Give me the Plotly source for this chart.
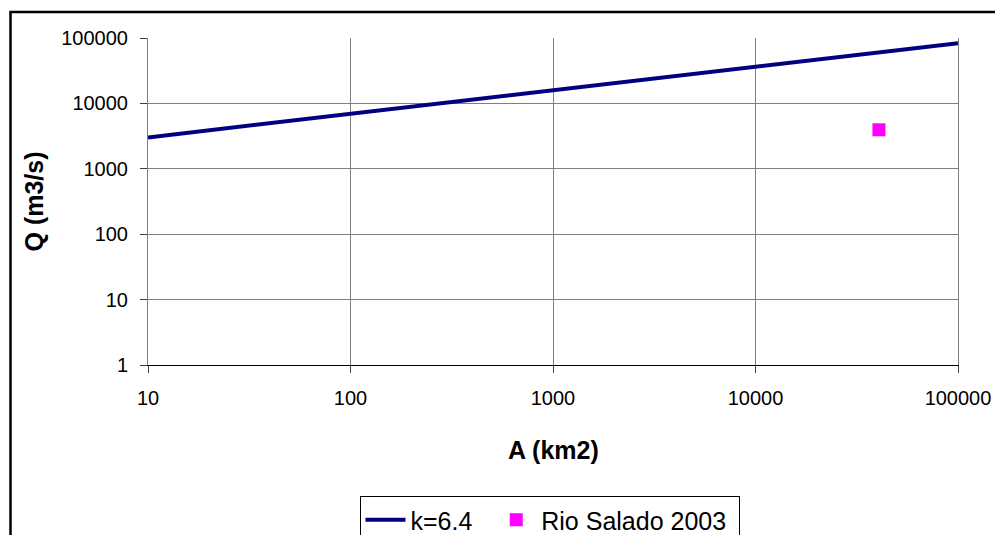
import plotly.graph_objects as go

# Catchment area (km2) and peak discharge (m3/s) for the k=6.4 envelope curve
area_k64 = [10, 100, 1000, 10000, 100000]
q_k64 = [3020, 6920, 15850, 36300, 83200]

# Observed flood event
area_obs = [40700]
q_obs = [3950]

x_ticks = [10, 100, 1000, 10000, 100000]
y_ticks = [1, 10, 100, 1000, 10000, 100000]

W, H = 995, 535
L, R, T, B = 148, 37, 38, 170
pw, ph = W - L - R, H - T - B


def px_x(px):
    return (px - L) / pw


def px_y(py):
    return (H - B - py) / ph


font = "Liberation Sans, Arial, sans-serif"

fig = go.Figure()
fig.add_trace(go.Scatter(
    x=area_k64, y=q_k64, mode="lines", name="k=6.4&nbsp;&nbsp;",
    line=dict(color="#000080", width=4),
))
fig.add_trace(go.Scatter(
    x=area_obs, y=q_obs, mode="markers", name="Rio Salado 2003&nbsp;",
    marker=dict(color="#FF00FF", symbol="square", size=13, line=dict(width=0)),
))

axis_common = dict(
    type="log", showgrid=True, gridcolor="#808080", gridwidth=1,
    ticks="outside", ticklen=7, tickcolor="#404040",
    tickfont=dict(family=font, size=20, color="black"),
    zeroline=False, exponentformat="none", automargin=False,
)

fig.update_layout(
    width=W, height=H,
    margin=dict(l=L, r=R, t=T, b=B, autoexpand=False),
    paper_bgcolor="white", plot_bgcolor="white",
    xaxis=dict(
        range=[1, 5], tickvals=x_ticks, ticktext=[str(v) for v in x_ticks],
        showline=True, linecolor="black", linewidth=1, ticklabelstandoff=8,
        **axis_common,
    ),
    yaxis=dict(
        range=[0, 5], tickvals=y_ticks, ticktext=[str(v) for v in y_ticks],
        showline=True, linecolor="#808080", linewidth=1, mirror=True,
        ticklabelstandoff=8,
        **axis_common,
    ),
    showlegend=True,
    legend=dict(
        orientation="h", x=px_x(549.5), xanchor="center",
        y=px_y(496), yanchor="top",
        bordercolor="black", borderwidth=1, bgcolor="white",
        font=dict(family=font, size=25, color="black"),
        itemwidth=40,
    ),
    annotations=[
        dict(text="<b>Q (m3/s)</b>", xref="paper", yref="paper",
             x=px_x(33), y=0.5, xanchor="center", yanchor="middle",
             textangle=-90, showarrow=False,
             font=dict(family=font, size=25, color="black")),
        dict(text="<b>A (km2)</b>", xref="paper", yref="paper",
             x=0.5, y=px_y(450), xanchor="center", yanchor="middle",
             showarrow=False,
             font=dict(family=font, size=25, color="black")),
    ],
    shapes=[
        dict(type="rect", xref="paper", yref="paper",
             x0=px_x(10.5), x1=px_x(1010), y0=px_y(560), y1=px_y(12),
             line=dict(color="black", width=2.5), layer="below"),
    ],
)

fig.write_html("out.html")
